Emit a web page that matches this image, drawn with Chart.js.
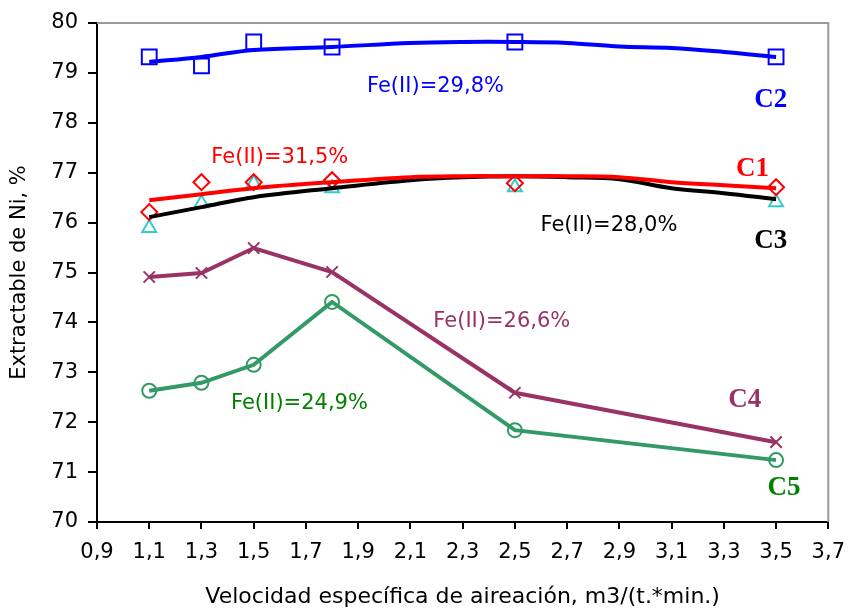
<!DOCTYPE html>
<html>
<head>
<meta charset="utf-8">
<script src="https://cdn.jsdelivr.net/npm/chart.js@4.4.0/dist/chart.umd.min.js"></script>
<style>
  body { margin: 0; background: #fff; }
  canvas { display: block; }
</style>
</head>
<body>
<canvas id="myChart" width="856" height="610"></canvas>
<script>
// measured velocities (m3/(t*min))
const velocity = [1.1, 1.3, 1.5, 1.8, 2.5, 3.5];
const c1Points = [76.21, 76.81, 76.81, 76.85, 76.79, 76.71];
const c2Points = [79.32, 79.14, 79.62, 79.52, 79.62, 79.32];
const c3Points = [75.89, 76.39, 76.79, 76.69, 76.71, 76.41];
const c4Points = [74.91, 74.99, 75.49, 75.01, 72.59, 71.60];
const c5Points = [72.63, 72.79, 73.15, 74.41, 71.84, 71.24];

// trend curves for C1..C3
const trendX = [1.1, 1.3, 1.5, 1.8, 2.1, 2.3, 2.5, 2.7, 2.9, 3.1, 3.3, 3.5];
const c1Trend = [76.45, 76.57, 76.69, 76.81, 76.91, 76.93, 76.93, 76.93, 76.91, 76.81, 76.75, 76.69];
const c2Trend = [79.22, 79.32, 79.46, 79.52, 79.60, 79.62, 79.62, 79.60, 79.53, 79.50, 79.42, 79.32];
const c3Trend = [76.11, 76.31, 76.51, 76.69, 76.85, 76.91, 76.93, 76.91, 76.87, 76.69, 76.59, 76.47];

const xTicks = [0.9, 1.1, 1.3, 1.5, 1.7, 1.9, 2.1, 2.3, 2.5, 2.7, 2.9, 3.1, 3.3, 3.5, 3.7];

const pairs = (xs, ys) => xs.map((x, i) => ({ x: x, y: ys[i] }));

// text notes placed on the plot
const noteFont = '21px "DejaVu Sans"';
const tagFont = 'bold 27px "Liberation Serif"';
const notes = [
  { text: 'Fe(II)=29,8%', x: 2.196, y: 78.72, color: '#0000ff', font: noteFont },
  { text: 'C2', x: 3.48, y: 78.46, color: '#0000ff', font: tagFont },
  { text: 'Fe(II)=31,5%', x: 1.60, y: 77.31, color: '#ff0000', font: noteFont },
  { text: 'C1', x: 3.41, y: 77.07, color: '#ff0000', font: tagFont },
  { text: 'Fe(II)=28,0%', x: 2.86, y: 75.95, color: '#000000', font: noteFont },
  { text: 'C3', x: 3.48, y: 75.63, color: '#000000', font: tagFont },
  { text: 'Fe(II)=26,6%', x: 2.45, y: 74.01, color: '#993366', font: noteFont },
  { text: 'C4', x: 3.38, y: 72.44, color: '#993366', font: tagFont },
  { text: 'Fe(II)=24,9%', x: 1.675, y: 72.38, color: '#008000', font: noteFont },
  { text: 'C5', x: 3.53, y: 70.68, color: '#008000', font: tagFont }
];

const notesPlugin = {
  id: 'notes',
  beforeDatasetsDraw(chart) {
    const { ctx, chartArea: a } = chart;
    ctx.save();
    ctx.strokeStyle = '#999999';
    ctx.lineWidth = 2;
    ctx.beginPath();
    ctx.moveTo(a.left, a.top);
    ctx.lineTo(a.right, a.top);
    ctx.lineTo(a.right, a.bottom);
    ctx.stroke();
    ctx.restore();
  },
  afterDatasetsDraw(chart) {
    const { ctx, scales } = chart;
    ctx.save();
    ctx.textAlign = 'center';
    ctx.textBaseline = 'middle';
    notes.forEach((n) => {
      ctx.font = n.font;
      ctx.fillStyle = n.color;
      ctx.fillText(n.text, scales.x.getPixelForValue(n.x), scales.y.getPixelForValue(n.y));
    });
    ctx.restore();
  }
};

const markerSet = (label, ys, color, style, radius, order) => ({
  label: label,
  data: pairs(velocity, ys),
  showLine: false,
  pointStyle: style,
  pointRadius: radius,
  pointBorderColor: color,
  pointBackgroundColor: 'rgba(0,0,0,0)',
  pointBorderWidth: 2,
  order: order
});

const trendSet = (label, ys, color, order) => ({
  label: label,
  data: pairs(trendX, ys),
  borderColor: color,
  borderWidth: 4,
  pointRadius: 0,
  tension: 0.35,
  fill: false,
  order: order
});

const ctx = document.getElementById('myChart').getContext('2d');
const chart = new Chart(ctx, {
  type: 'line',
  data: {
    datasets: [
      trendSet('C2', c2Trend, '#0000ff', 1),
      trendSet('C1', c1Trend, '#ff0000', 2),
      trendSet('C3', c3Trend, '#000000', 3),
      markerSet('C2 data', c2Points, '#0000ff', 'rect', 10.5, 4),
      markerSet('C1 data', c1Points, '#ff0000', 'rectRot', 8, 5),
      markerSet('C3 data', c3Points, '#33cccc', 'triangle', 8, 6),
      {
        label: 'C4',
        data: pairs(velocity, c4Points),
        borderColor: '#993366',
        borderWidth: 4,
        pointStyle: 'crossRot',
        pointRadius: 8,
        pointBorderColor: '#993366',
        pointBorderWidth: 2,
        order: 7
      },
      {
        label: 'C5',
        data: pairs(velocity, c5Points),
        borderColor: '#339966',
        borderWidth: 4,
        pointStyle: 'circle',
        pointRadius: 7,
        pointBorderColor: '#339966',
        pointBackgroundColor: 'rgba(0,0,0,0)',
        pointBorderWidth: 2,
        order: 8
      }
    ]
  },
  options: {
    responsive: false,
    animation: false,
    layout: { padding: { top: 23, right: 18, left: 0, bottom: 0 } },
    plugins: {
      legend: { display: false },
      tooltip: { enabled: false }
    },
    scales: {
      x: {
        type: 'linear',
        min: 0.9,
        max: 3.7,
        afterBuildTicks: (s) => { s.ticks = xTicks.map((v) => ({ value: v })); },
        afterFit: (s) => { s.height = 88; },
        border: { color: '#000', width: 2 },
        grid: { drawOnChartArea: false, color: '#000', tickLength: 7, lineWidth: 2 },
        ticks: {
          color: '#000',
          padding: 11,
          maxRotation: 0,
          font: { family: 'DejaVu Sans', size: 21 },
          callback: (v) => v.toFixed(1).replace('.', ',')
        },
        title: {
          display: true,
          text: 'Velocidad específica de aireación, m3/(t.*min.)',
          color: '#000',
          padding: 0,
          font: { family: 'DejaVu Sans', size: 22 }
        }
      },
      y: {
        min: 70,
        max: 80,
        afterFit: (s) => { s.width = 97; },
        border: { color: '#000', width: 2 },
        grid: { drawOnChartArea: false, color: '#000', tickLength: 9, lineWidth: 2 },
        ticks: {
          stepSize: 1,
          color: '#000',
          padding: 10,
          font: { family: 'DejaVu Sans', size: 21 }
        },
        title: {
          display: true,
          text: 'Extractable de Ni, %',
          color: '#000',
          padding: { top: 7, bottom: 0 },
          font: { family: 'DejaVu Sans', size: 21 }
        }
      }
    }
  },
  plugins: [notesPlugin]
});
</script>
</body>
</html>
